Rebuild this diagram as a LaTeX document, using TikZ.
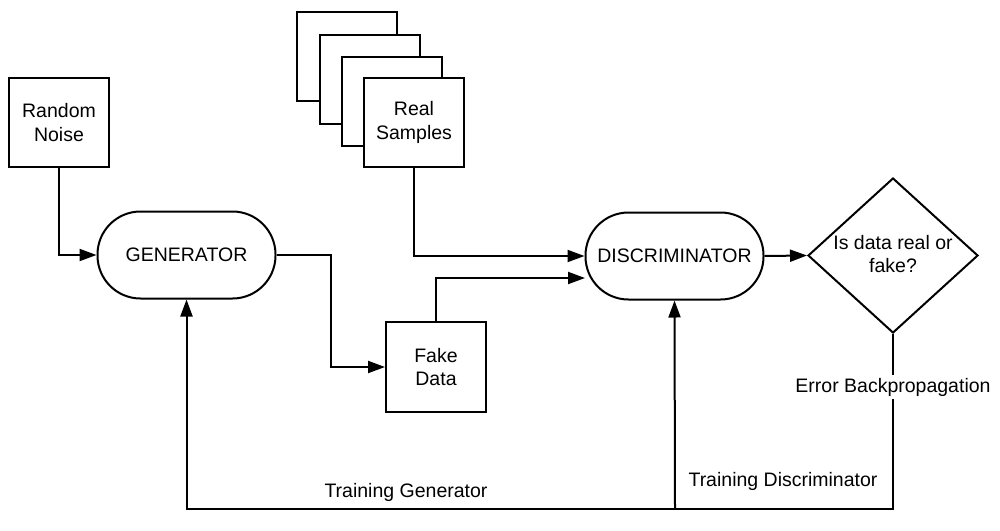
\documentclass[tikz,border=0pt]{standalone}
\usepackage{fontspec}
\setmainfont{Liberation Sans}
\usetikzlibrary{shapes.geometric,arrows.meta}
\begin{document}
\begin{tikzpicture}[x=1pt,y=-1pt,
  every node/.style={font=\fontsize{19.5}{23.5}\selectfont, align=center, inner sep=0pt},
  box/.style={draw, line width=2pt, fill=white, minimum width=100pt, minimum height=89pt},
  pill/.style={draw, line width=2pt, fill=white, rounded corners=43pt, minimum width=178pt, minimum height=87pt},
  conn/.style={line width=2pt},
  arr/.style={line width=2pt, -{Triangle[length=17pt,width=12pt]}},
  lbl/.style={fill=white, inner sep=3pt}]
\useasboundingbox (0,0) rectangle (1000,530);
% nodes
\node[box] (noise) at (59,122.5) {Random\\Noise};
\node[box] (r1) at (347,56.5) {};
\node[box] (r2) at (369.5,79) {};
\node[box] (r3) at (392,101.5) {};
\node[box] (real) at (414,122.5) {Real\\Samples};
\node[pill] (gen) at (186.5,255) {GENERATOR};
\node[box, minimum height=90pt] (fake) at (436,367) {Fake\\Data};
\node[pill] (disc) at (674.5,256) {DISCRIMINATOR};
\node[diamond, draw, line width=2pt, minimum width=170pt, minimum height=155pt] (dec) at (893,255.5) {};
\node (dectext) at (893,254) {Is data real or\\fake?};
% coordinates
\coordinate (din2) at (585,278);
\coordinate (br) at (893,509);
\coordinate (bm) at (675,509);
\coordinate (bl) at (186.5,509);
% connectors
\draw[arr] (noise.south) |- (gen.west);
\draw[arr] (gen.east) -- ++(54,0) |- (fake.west);
\draw[arr] (fake.north) |- (din2);
\draw[arr] (real.south) |- (disc.west);
\draw[arr] (disc.east) -- (dec.west);
\draw[arr] (dec.south) -- (br) -- (bl) -- (gen.south);
\draw[arr] (bm) -- (disc.south);
% labels
\node[lbl] (ebp) at (893,387) {Error Backpropagation};
\node (tg) at (406,492) {Training Generator};
\node (td) at (783,481) {Training Discriminator};
\end{tikzpicture}
\end{document}
